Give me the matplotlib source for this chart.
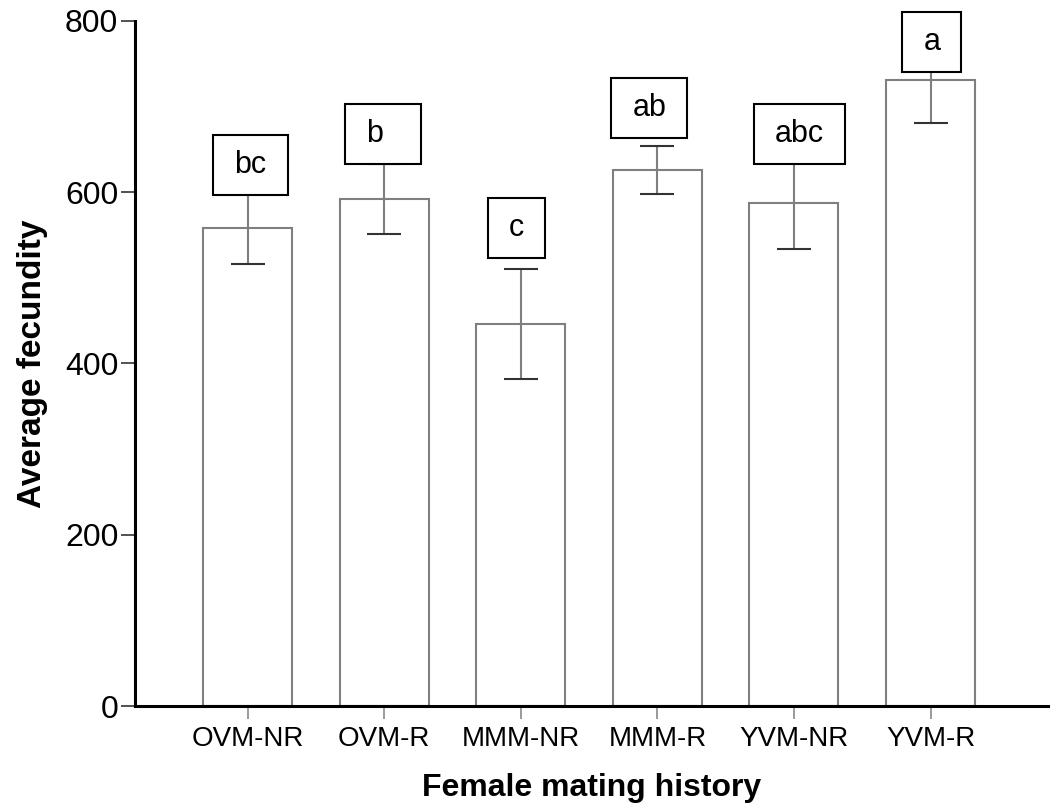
import numpy as np
import matplotlib
matplotlib.use("Agg")
import matplotlib.pyplot as plt
from matplotlib.path import Path

plt.rcParams['font.family'] = ['Liberation Sans', 'DejaVu Sans']

# Data
groups = ['OVM-NR', 'OVM-R', 'MMM-NR', 'MMM-R', 'YVM-NR', 'YVM-R']
fecundity = [558, 592, 446, 626, 587, 731]
fecundity_se = [42, 41, 64, 28, 54, 50]

# Significance letters and where their boxes sit (x offset from bar, y in data units)
letters = ['bc', 'b', 'c', 'ab', 'abc', 'a']
letter_dx = [0.02, -0.07, -0.03, -0.06, 0.04, 0.01]
letter_y = [631, 668, 558, 698, 668, 775]
letter_extra_right = [0.0, 0.55, 0.0, 0.0, 0.0, 0.0]

BAR_EDGE = '#7f7f7f'


def make_box(extra_right=0.0):
    """Rectangle box with separate x/y padding (in units of font size)"""
    def box(x0, y0, width, height, mutation_size):
        px = 0.69 * mutation_size
        py = 0.49 * mutation_size
        xa = x0 - px
        xb = x0 + width + px + extra_right * mutation_size
        ya = y0 - py
        yb = y0 + height + py
        return Path([(xa, ya), (xb, ya), (xb, yb), (xa, yb), (xa, ya)], closed=True)
    return box


fig = plt.figure(figsize=(10.52, 8.05), dpi=100)
ax = fig.add_axes([0.1283, 0.1224, 0.8679, 0.8521])

x = np.arange(len(groups))
ax.bar(x, fecundity, width=0.652, color='white', edgecolor=BAR_EDGE, linewidth=1.5, zorder=1)

# capsize is half the cap length in points
eb = ax.errorbar(x, fecundity, yerr=fecundity_se, fmt='none', ecolor=BAR_EDGE,
                 elinewidth=1.5, capsize=12.5, capthick=1.5, zorder=2)
for cap in eb[1]:
    cap.set_color('#333333')
    cap.set_markeredgecolor('#333333')

# letter boxes
for i, lab in enumerate(letters):
    ax.text(x[i] + letter_dx[i], letter_y[i], lab, fontsize=22, ha='center', va='center',
            zorder=4, clip_on=False,
            bbox=dict(boxstyle=make_box(letter_extra_right[i]), facecolor='white',
                      edgecolor='black', linewidth=1.5))

ax.set_xlim(-0.825, 5.86)
ax.set_ylim(0, 800)
ax.set_xticks(x)
ax.set_xticklabels(groups, fontsize=20)
ax.set_yticks([0, 200, 400, 600, 800])
ax.tick_params(axis='y', labelsize=23, length=10, width=1.1, color='#222222', pad=2)
ax.tick_params(axis='x', length=9, width=1.1, color=BAR_EDGE, pad=5)

for side in ['top', 'right']:
    ax.spines[side].set_visible(False)
for side in ['left', 'bottom']:
    ax.spines[side].set_linewidth(2.2)
    ax.spines[side].set_color('black')

ax.set_xlabel('Female mating history', fontsize=23, fontweight='bold', labelpad=15)
ax.set_ylabel('Average fecundity', fontsize=24, fontweight='bold', labelpad=12)

fig.savefig('out.png', dpi=100)
